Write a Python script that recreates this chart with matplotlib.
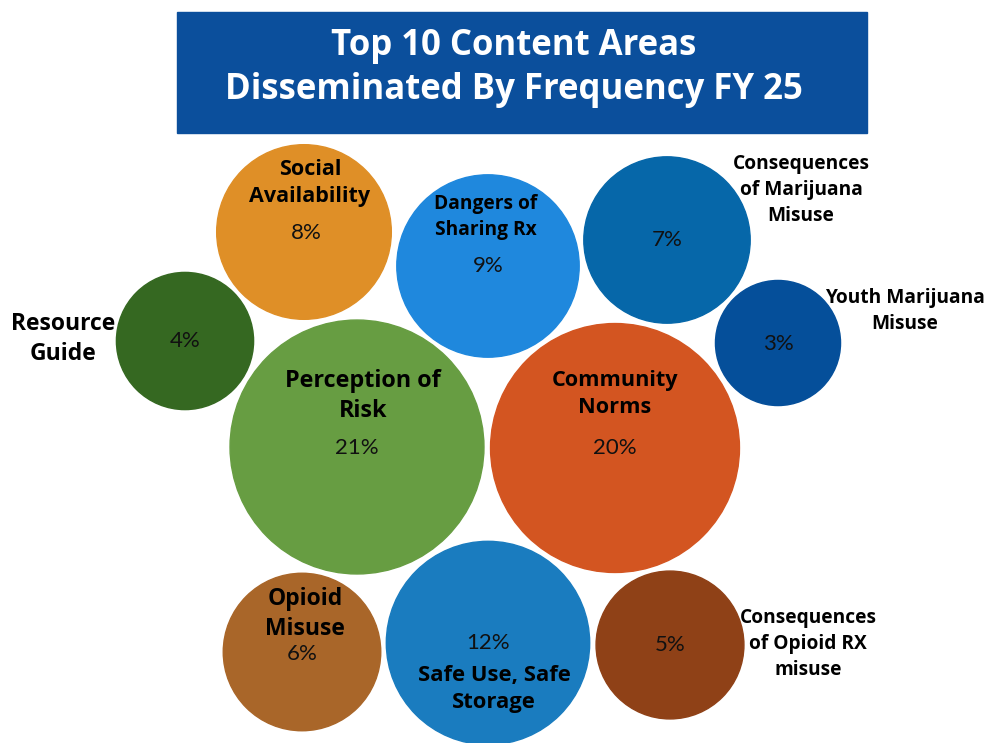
import matplotlib.pyplot as plt
from matplotlib.patches import Circle, Rectangle
import numpy as np

topics = ["Social\nAvailability", "Dangers of\nSharing Rx", "Consequences\nof Marijuana\nMisuse",
          "Resource\nGuide", "Youth Marijuana\nMisuse", "Perception of\nRisk", "Community\nNorms",
          "Opioid\nMisuse", "Safe Use, Safe\nStorage", "Consequences\nof Opioid RX\nmisuse"]
share = [8, 9, 7, 4, 3, 21, 20, 6, 12, 5]
colors = ["#df8f27", "#1f88dd", "#0667a9", "#356821", "#054f9a",
          "#679d42", "#d35521", "#a96629", "#1a7cbf", "#8f4117"]

# packed layout (pixel space, y downward)
centers = [(304, 232), (488, 266), (667, 240), (185, 341), (778, 343),
           (357, 447), (615, 448), (302, 652), (488, 643), (670, 645)]
# where the name and the percent sit
name_pos = [(310, 183), (486, 217), (801, 190), (63, 339), (905, 311),
            (363, 396), (615, 394), (305, 614), (494, 689), (808, 644)]
name_size = [15.5, 13.8, 13.8, 16.5, 13.8, 16.8, 15.6, 16.5, 15.8, 13.8]
pct_pos = [(306, 233), (488, 266), (667, 240), (185, 341), (778, 344),
           (357, 448), (615, 448), (302, 654), (488, 643), (670, 645)]

fig = plt.figure(figsize=(9.87, 7.43), dpi=100)
ax = fig.add_axes([0, 0, 1, 1])
ax.set_xlim(0, 987)
ax.set_ylim(743, 0)
ax.set_aspect("equal")
ax.axis("off")

# title banner
ax.add_patch(Rectangle((177, 12), 690, 121, color="#0b4f9c", zorder=1))
ax.text(514, 46, "Top 10 Content Areas", ha="center", va="center", color="white",
        fontsize=25, fontweight="bold", family="Open Sans")
ax.text(514, 90, "Disseminated By Frequency FY 25", ha="center", va="center", color="white",
        fontsize=25, fontweight="bold", family="Open Sans")

for i in range(len(share)):
    r = 23.4 + 22.6 * np.sqrt(share[i])
    ax.add_patch(Circle(centers[i], r, color=colors[i], zorder=2))
    ax.text(pct_pos[i][0], pct_pos[i][1], f"{share[i]}%", ha="center", va="center",
            fontsize=16, fontweight="normal", family="Lato", color="#111111", zorder=3)
    ax.text(name_pos[i][0], name_pos[i][1], topics[i], ha="center", va="center",
            fontsize=name_size[i], fontweight="bold", family="Open Sans",
            linespacing=1.38, color="black", zorder=3)

fig.savefig("out.png", dpi=100)
